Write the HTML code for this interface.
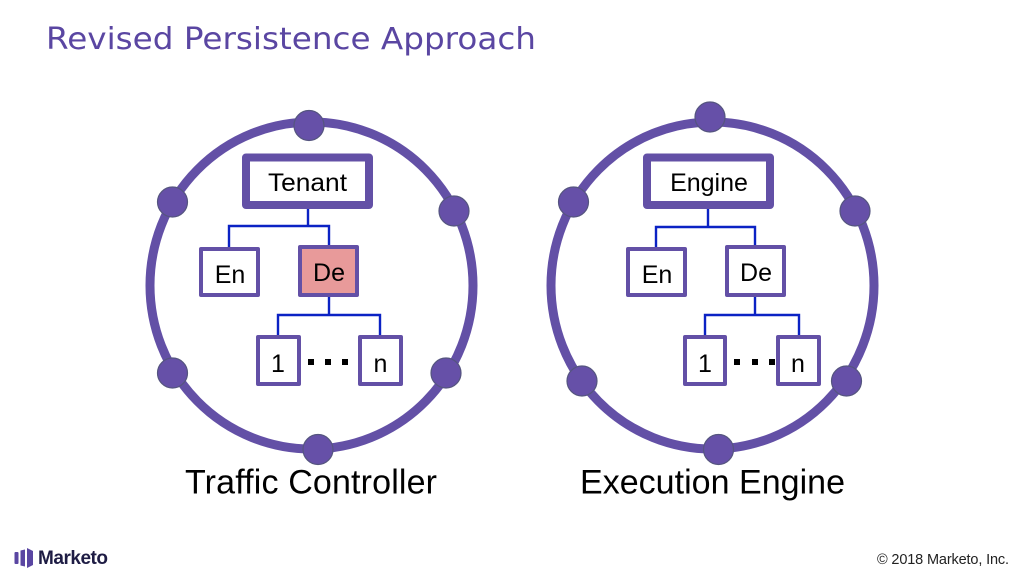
<!DOCTYPE html>
<html>
<head>
<meta charset="utf-8">
<style>
html,body{margin:0;padding:0;background:#fff;width:1024px;height:576px;overflow:hidden}
svg{display:block}
text{font-family:"Liberation Sans",Arial,sans-serif;fill:#000}
.b{fill:#fff;stroke:#6350a6;stroke-width:4;stroke-linejoin:round}
.t{fill:#fff;stroke:#6350a6;stroke-width:8;stroke-linejoin:round}
.c{fill:none;stroke:#0b22c4;stroke-width:2.4}
.r{fill:none;stroke:#6350a6;stroke-width:9}
.n{fill:#6650a8;stroke:#55557f;stroke-width:1.2}
.l{font-size:25px;text-anchor:middle}
.h{font-size:34px}
</style>
</head>
<body>
<svg width="1024" height="576" viewBox="0 0 1024 576" xmlns="http://www.w3.org/2000/svg">
<rect width="1024" height="576" fill="#fff"/>
<text x="46" y="49" style="font-family:'DejaVu Sans',sans-serif;font-size:30px;fill:#5a46a2" textLength="490" lengthAdjust="spacingAndGlyphs">Revised Persistence Approach</text>

<!-- Left -->
<ellipse class="r" cx="311.5" cy="285.5" rx="161.500" ry="163.500"/>
<circle class="n" cx="309" cy="125.500" r="15"/>
<circle class="n" cx="172.500" cy="202" r="15"/>
<circle class="n" cx="454" cy="211" r="15"/>
<circle class="n" cx="172.500" cy="373" r="15"/>
<circle class="n" cx="446" cy="373" r="15"/>
<circle class="n" cx="318" cy="449.500" r="15"/>
<path class="c" d="M308 205V226M229 247V226H329V245M329 297V315M278 335V315H380V335"/>
<rect class="t" x="246" y="157.500" width="123" height="47.500"/>
<rect class="b" x="201" y="249" width="57" height="46"/>
<rect class="b" x="300" y="247" width="57" height="48" style="fill:#e89a9a"/>
<rect class="b" x="258" y="337" width="41" height="47"/>
<rect class="b" x="360" y="337" width="41" height="47"/>
<rect x="308" y="359" width="6" height="6"/><rect x="325" y="359" width="6" height="6"/><rect x="342" y="359" width="6" height="6"/>
<text x="268" y="191" style="font-size:25px" textLength="79" lengthAdjust="spacingAndGlyphs">Tenant</text>
<text class="l" x="230" y="283">En</text>
<text class="l" x="329" y="281">De</text>
<text class="l" x="278" y="372">1</text>
<text class="l" x="380.500" y="372">n</text>
<text class="h" x="185" y="493.500" textLength="252" lengthAdjust="spacing">Traffic Controller</text>

<!-- Right -->
<ellipse class="r" cx="712.5" cy="285.5" rx="161.500" ry="163.500"/>
<circle class="n" cx="710" cy="117" r="15"/>
<circle class="n" cx="573.500" cy="202" r="15"/>
<circle class="n" cx="855" cy="211" r="15"/>
<circle class="n" cx="582" cy="381" r="15"/>
<circle class="n" cx="846.500" cy="381" r="15"/>
<circle class="n" cx="718.500" cy="449.500" r="15"/>
<path class="c" d="M708 205V227M656 247V227H755V245M755 297V315M705 335V315H799V335"/>
<rect class="t" x="647" y="157.500" width="123" height="47.500"/>
<rect class="b" x="628" y="249" width="57" height="46"/>
<rect class="b" x="727" y="247" width="57" height="48"/>
<rect class="b" x="685" y="337" width="40" height="47"/>
<rect class="b" x="778" y="337" width="41" height="47"/>
<rect x="734" y="359" width="6" height="6"/><rect x="752" y="359" width="6" height="6"/><rect x="769" y="359" width="6" height="6"/>
<text class="l" x="709" y="191">Engine</text>
<text class="l" x="657" y="283">En</text>
<text class="l" x="756" y="281">De</text>
<text class="l" x="705" y="372">1</text>
<text class="l" x="798" y="372">n</text>
<text class="h" x="580" y="493.500" textLength="265" lengthAdjust="spacing">Execution Engine</text>

<!-- Footer -->
<rect x="14.500" y="552" width="4" height="12" rx="1" fill="#5a46a2"/>
<path d="M20.500 550.500L25 549.500V566.500L20.500 565.500Z" fill="#5a46a2"/>
<path d="M27 548L33 551V565L27 568Z" fill="#5a46a2"/>
<text x="38" y="564" style="font-size:19px;font-weight:bold;fill:#1e1c44" textLength="70" lengthAdjust="spacing">Marketo</text>
<text x="877" y="564" style="font-size:14.500px;fill:#222" textLength="132" lengthAdjust="spacing">© 2018 Marketo, Inc.</text>
</svg>
</body>
</html>
